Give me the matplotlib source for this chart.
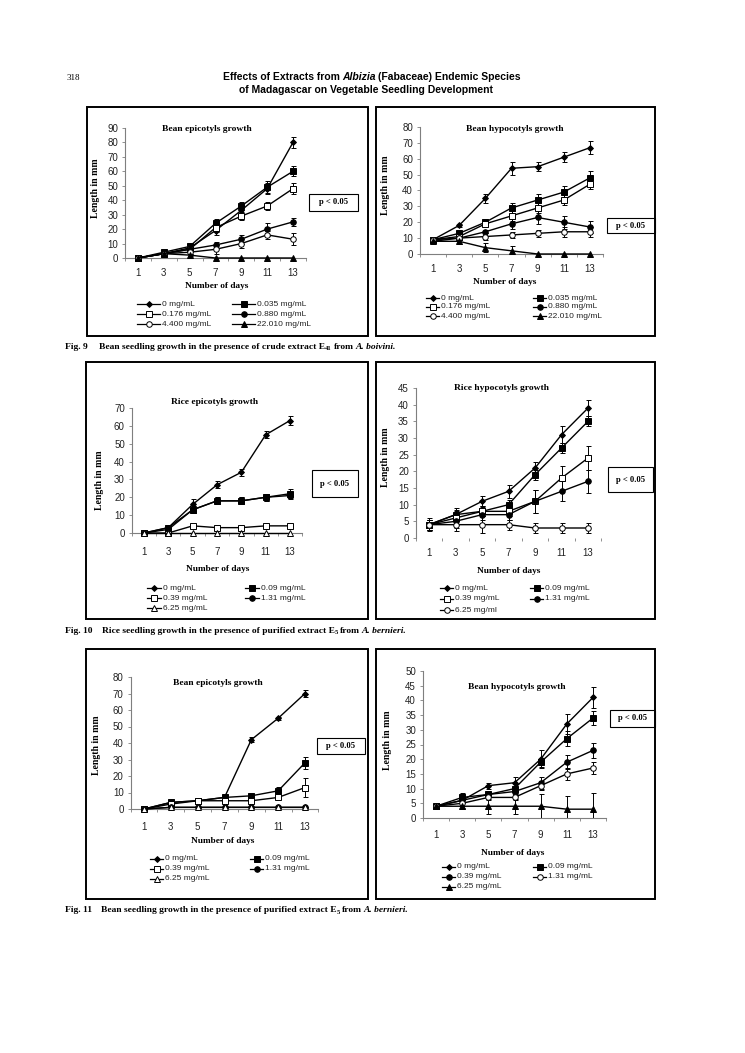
import matplotlib
matplotlib.use('Agg')
import matplotlib.pyplot as plt
from matplotlib.lines import Line2D
from matplotlib.patches import Rectangle
import numpy as np

W, H = 745, 1053
SERIF = 'Liberation Serif'
SANS = 'Liberation Sans'

# ---------------- data ----------------
days = [1, 3, 5, 7, 9, 11, 13]
day_labels = ['1', '3', '5', '7', '9', '11', '13']

# Fig. 9 (crude extract E41, A. boivini)
f9_labels = ['0 mg/mL', '0.035 mg/mL', '0.176 mg/mL', '0.880 mg/mL', '4.400 mg/mL', '22.010 mg/mL']
f9_markers = [('D', True), ('s', True), ('s', False), ('o', True), ('o', False), ('^', True)]
# Bean epicotyls
f9a_0 = [0, 3, 7, 19, 33, 48, 80]
f9a_035 = [0, 4, 8, 24, 36, 49, 60]
f9a_176 = [0, 3, 6, 21, 29, 36, 48]
f9a_880 = [0, 3, 6, 9, 13, 20, 25]
f9a_4400 = [0, 3, 4, 6, 10, 16, 13]
f9a_22010 = [0, 3, 2, 0, 0, 0, 0]
f9a_err = [[0.5, 1, 1.5, 3, 3, 4, 4], [0.5, 1, 1.5, 3, 3, 4, 3.5], [0.5, 1, 1, 3, 3, 3, 4],
           [0.5, 1, 1, 2, 3, 4.5, 3], [0.5, 1, 1, 3, 3, 3, 4], [0, 0.5, 0.5, 0, 0, 0, 0]]
# Bean hypocotyls
f9b_0 = [9, 18, 35, 54, 55, 61, 67]
f9b_035 = [9, 13, 20, 29, 34, 39, 48]
f9b_176 = [9, 11, 19, 24, 29, 34, 44]
f9b_880 = [8, 10, 14, 19, 23, 20, 17]
f9b_4400 = [9, 10, 11, 12, 13, 14, 14]
f9b_22010 = [8, 8, 4, 2, 0, 0, 0]
f9b_err = [[1, 1, 3, 4, 3, 3, 4], [1, 1, 2, 3, 4, 4, 4], [1, 1, 2, 3, 3, 3, 3],
           [1, 1, 1, 3, 4, 4, 4], [1, 1, 2, 2, 2, 3, 3], [1, 2, 3, 3, 0, 0, 0]]

# Fig. 10 (purified extract E5, A. bernieri) rice
f10_labels = ['0 mg/mL', '0.09 mg/mL', '0.39 mg/mL', '1.31 mg/mL', '6.25 mg/mL']
f10b_labels = ['0 mg/mL', '0.09 mg/mL', '0.39 mg/mL', '1.31 mg/mL', '6.25 mg/ml']
f10a_markers = [('D', True), ('s', True), ('s', False), ('o', True), ('^', False)]
f10b_markers = [('D', True), ('s', True), ('s', False), ('o', True), ('o', False)]
f10a_0 = [0, 3, 16, 27, 34, 55, 63]
f10a_09 = [0, 3, 13, 18, 18, 20, 22]
f10a_39 = [0, 0, 4, 3, 3, 4, 4]
f10a_131 = [0, 2, 13, 18, 18, 20, 21]
f10a_625 = [0, 0, 0, 0, 0, 0, 0]
f10a_err = [[0.5, 1, 3, 2, 2, 2, 2.5], [0.5, 1, 2, 2, 2, 2, 2.5], [0, 0, 0.5, 0.5, 0.5, 0.5, 0.5],
            [0.5, 1, 2, 2, 2, 2, 2], [0, 0, 0, 0, 0, 0, 0]]
f10b_0 = [4, 7, 11, 14, 21, 31, 39]
f10b_09 = [4, 7, 8, 10, 19, 27, 35]
f10b_39 = [4, 6, 8, 8, 11, 18, 24]
f10b_131 = [4, 5, 7, 7, 11, 14, 17]
f10b_625 = [4, 4, 4, 4, 3, 3, 3]
f10b_err = [[2, 2, 1.7, 2, 1.8, 2.5, 2.5], [1.5, 1.5, 1.5, 1.5, 1.5, 1.5, 1.5],
            [1.5, 2, 1.5, 1.5, 3.5, 3.5, 3.5], [1.5, 2, 1.5, 1.5, 3.5, 3, 3.5],
            [1.5, 2, 2.5, 1.5, 1.5, 1.5, 1.5]]

# Fig. 11 (purified extract E5, A. bernieri) bean
f11_labels = ['0 mg/mL', '0.09 mg/mL', '0.39 mg/mL', '1.31 mg/mL', '6.25 mg/mL']
f11a_markers = [('D', True), ('s', True), ('s', False), ('o', True), ('^', False)]
f11b_markers = [('D', True), ('s', True), ('o', True), ('o', False), ('^', True)]
f11a_0 = [0, 4, 5, 7, 42, 55, 70]
f11a_09 = [0, 4, 5, 7, 8, 11, 28]
f11a_39 = [0, 3, 5, 5, 5, 7, 13]
f11a_131 = [0, 1, 1, 1, 1, 1, 1]
f11a_625 = [0, 1, 1, 1, 1, 1, 1]
f11a_err = [[0.5, 1, 1, 1, 1.5, 1, 2], [0.5, 1, 1, 1.5, 1, 2.5, 3.5], [0.5, 0.5, 1, 1, 1, 1, 6],
            [0.5, 0.5, 0.5, 0.5, 0.5, 0.5, 0.5], [0.5, 0.5, 0.5, 0.5, 0.5, 0.5, 0.5]]
f11b_0 = [4, 6, 11, 12, 20, 32, 41]
f11b_09 = [4, 7, 8, 10, 19, 27, 34]
f11b_39 = [4, 6, 8, 9, 12, 19, 23]
f11b_131 = [4, 5, 7, 7, 11, 15, 17]
f11b_625 = [4, 4, 4, 4, 4, 3, 3]
f11b_err = [[1, 2.5, 1, 2, 3, 3.5, 3.5], [1, 1, 1, 1.5, 1.5, 2.5, 2.5], [1, 1, 1, 1.5, 2, 2.5, 2.5],
            [1, 1, 1, 1, 1.5, 2, 2], [1, 1, 2.5, 2.5, 4, 4.5, 5.5]]

# ---------------- figure ----------------
fig = plt.figure(figsize=(W / 100, H / 100), dpi=100)
fig.patch.set_facecolor('white')


def fx(x):
    return x / W


def fy(y):
    return 1 - y / H


def runs(x, y, parts, ha='left'):
    """parts: list of (text, kwargs, gap_after_px, dy_px)"""
    r = fig.canvas.get_renderer()
    ws = []
    for s, kw, gap, dy in parts:
        t = fig.text(0, 0, s, **kw)
        ws.append(t.get_window_extent(r).width)
        t.remove()
    total = sum(ws) + sum(p[2] for p in parts[:-1])
    cur = x - total / 2 if ha == 'center' else x
    for (s, kw, gap, dy), w in zip(parts, ws):
        fig.text(fx(cur), fy(y + dy), s, ha='left', va='baseline', **kw)
        cur += w + gap


def panel(box, ax_px, ymax, ystep, vals, errs, labels, markers, title, title_xy,
          ylabel_xy, xlabel_xy, pbox, leg, xpad=7, hide_xaxis=False):
    x0, y0, x1, y1 = box
    fig.patches.append(Rectangle((fx(x0), fy(y1)), (x1 - x0) / W, (y1 - y0) / H,
                                 transform=fig.transFigure, fill=False, ec='black', lw=1.4))
    axl, axr, ytop, yzero = ax_px
    ax = fig.add_axes([fx(axl), fy(yzero), (axr - axl) / W, (yzero - ytop) / H])
    ax.set_xlim(0, 14)
    ax.set_ylim(0, ymax)
    ax.patch.set_alpha(0)
    for s in ['top', 'right']:
        ax.spines[s].set_visible(False)
    for s in ['left', 'bottom']:
        ax.spines[s].set_color('#7f7f7f')
        ax.spines[s].set_linewidth(0.8)
    if hide_xaxis:
        ax.spines['bottom'].set_visible(False)
    ax.set_yticks(np.arange(0, ymax + 0.1, ystep))
    ax.tick_params(axis='y', direction='out', length=2.5, width=0.6, color='#7f7f7f',
                   labelsize=7, pad=2.5)
    ax.set_xticks(np.arange(0, 15, 2))
    ax.set_xticklabels([])
    ax.set_xticks(days, minor=True)
    ax.set_xticklabels(day_labels, minor=True)
    ax.tick_params(axis='x', which='major', direction='out', length=2.5, width=0.6,
                   color='#7f7f7f')
    ax.tick_params(axis='x', which='minor', length=0, labelsize=7, pad=xpad)
    for lab in ax.get_xticklabels(minor=True) + ax.get_yticklabels():
        lab.set_fontfamily(SANS)
        lab.set_color('#222222')

    handles = []
    for v, e, m in zip(vals, errs, markers):
        mk, filled = m
        v = np.array(v, float)
        e = np.array(e, float)
        lo = np.minimum(e, v)
        ms = 3.0 if mk == 'D' else 4.0
        ax.errorbar(days, v, yerr=[lo, e], fmt='none', ecolor='black', elinewidth=0.7,
                    capsize=1.8, capthick=0.7, clip_on=False)
        ax.plot(days, v, color='black', lw=1.0, marker=mk, ms=ms,
                mfc='black' if filled else 'white', mec='black', mew=0.7, clip_on=False,
                zorder=3)
        handles.append((mk, filled, ms))

    fig.text(fx(title_xy[0]), fy(title_xy[1]), title, ha='center', va='center',
             family=SERIF, weight='bold', size=6.8)
    fig.text(fx(ylabel_xy[0]), fy(ylabel_xy[1]), 'Length in mm', ha='center', va='center',
             rotation=90, family=SERIF, weight='bold', size=7)
    fig.text(fx(xlabel_xy[0]), fy(xlabel_xy[1]), 'Number of days', ha='center', va='center',
             family=SERIF, weight='bold', size=6.7)
    px0, py0, px1, py1 = pbox
    fig.patches.append(Rectangle((fx(px0), fy(py1)), (px1 - px0) / W, (py1 - py0) / H,
                                 transform=fig.transFigure, fill=False, ec='black', lw=0.8))
    fig.text(fx((px0 + px1) / 2), fy((py0 + py1) / 2), 'p < 0.05', ha='center', va='center',
             family=SERIF, weight='bold', size=6.2)

    rows, c1x, c2x, hl = leg
    for i, (lab, h) in enumerate(zip(labels, handles)):
        r = i // 2
        c = i % 2
        lx = c1x if c == 0 else c2x
        ly = rows[r]
        mk, filled, ms = h
        l = Line2D([fx(lx), fx(lx + hl / 2), fx(lx + hl)], [fy(ly)] * 3, transform=fig.transFigure,
                   color='black', lw=0.9, marker=mk, ms=ms, markevery=[1],
                   mfc='black' if filled else 'white', mec='black', mew=0.7)
        fig.add_artist(l)
        fig.text(fx(lx + hl + 2), fy(ly), lab, ha='left', va='center', family=SANS, size=6,
                 color='#222222')
    return ax


# Fig 9 left
panel((87, 107, 368, 336), (125.1, 305.9, 128, 258), 90, 10,
      [f9a_0, f9a_035, f9a_176, f9a_880, f9a_4400, f9a_22010], f9a_err, f9_labels, f9_markers,
      'Bean epicotyls growth', (207, 129), (95, 188), (217, 286), (309, 194, 358, 211),
      ([304, 314, 324], 137, 232, 23), xpad=7)
# Fig 9 right
panel((376, 107, 655, 336), (419.9, 603.1, 127, 254), 80, 10,
      [f9b_0, f9b_035, f9b_176, f9b_880, f9b_4400, f9b_22010], f9b_err, f9_labels, f9_markers,
      'Bean hypocotyls growth', (515, 129), (386, 185), (505, 282), (607, 218, 655, 233),
      ([298, 307, 316], 426, 533, 13), xpad=7)
# Fig 10 left
panel((86, 362, 368, 619), (131.8, 302.2, 408, 533), 70, 10,
      [f10a_0, f10a_09, f10a_39, f10a_131, f10a_625], f10a_err, f10_labels, f10a_markers,
      'Rice epicotyls growth', (215, 402), (100, 480), (218, 569), (312, 470, 358, 497),
      ([588, 598, 608], 147, 245, 14), xpad=10)
# Fig 10 right
panel((376, 362, 655, 619), (415.8, 601.3, 388, 538), 45, 5,
      [f10b_0, f10b_09, f10b_39, f10b_131, f10b_625], f10b_err, f10b_labels, f10b_markers,
      'Rice hypocotyls growth', (502, 388), (385, 457), (509, 571), (608, 467, 653, 492),
      ([588, 599, 610], 440, 530, 13), xpad=7.5, hide_xaxis=True)
# Fig 11 left
panel((86, 649, 368, 899), (130.6, 318.4, 677, 809), 80, 10,
      [f11a_0, f11a_09, f11a_39, f11a_131, f11a_625], f11a_err, f11_labels, f11a_markers,
      'Bean epicotyls growth', (218, 683), (97, 745), (223, 841), (317, 738, 365, 754),
      ([859, 869, 879], 150, 250, 13), xpad=9)
# Fig 11 right
panel((376, 649, 655, 899), (422.9, 606.1, 671, 818), 50, 5,
      [f11b_0, f11b_09, f11b_39, f11b_131, f11b_625], f11b_err, f11_labels, f11b_markers,
      'Bean hypocotyls growth', (517, 687), (388, 740), (513, 853), (610, 710, 655, 727),
      ([867, 877, 887], 442, 533, 13), xpad=8.5)

# ---------------- page texts ----------------
fig.text(fx(67), fy(80), '318', ha='left', va='baseline', family=SERIF, size=6.5)
hb = dict(family=SANS, weight='bold', size=7.5)
hbi = dict(family=SANS, weight='bold', style='italic', size=7.5)
runs(372, 80, [('Effects of Extracts from', hb, 2.5, 0), ('Albizia', hbi, 2.5, 0),
               ('(Fabaceae) Endemic Species', hb, 0, 0)], ha='center')
runs(366, 93, [('of Madagascar on Vegetable Seedling Development', hb, 0, 0)], ha='center')

cb = dict(family=SERIF, weight='bold', size=6.8)
cbi = dict(family=SERIF, weight='bold', style='italic', size=6.8)
cs = dict(family=SERIF, weight='bold', size=4.7)
runs(65, 349, [('Fig. 9', cb, 11, 0),
               ('Bean seedling growth in the presence of crude extract E', cb, 0, 0),
               ('41', cs, 2, 1.5), ('from', cb, 2, 0), ('A. boivini.', cbi, 0, 0)])
runs(65, 633, [('Fig. 10', cb, 9, 0),
               ('Rice seedling growth in the presence of purified extract E', cb, 0, 0),
               ('5', cs, 2, 1.5), ('from', cb, 2, 0), ('A. bernieri.', cbi, 0, 0)])
runs(65, 912, [('Fig. 11', cb, 9, 0),
               ('Bean seedling growth in the presence of purified extract E', cb, 0, 0),
               ('5', cs, 2, 1.5), ('from', cb, 2, 0), ('A. bernieri.', cbi, 0, 0)])

fig.savefig('out.png', dpi=100, facecolor='white')
